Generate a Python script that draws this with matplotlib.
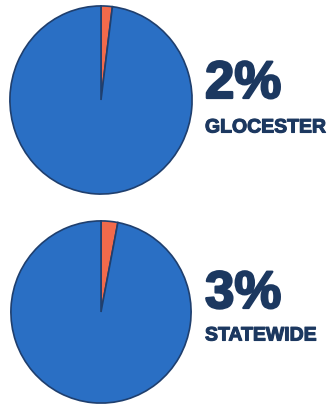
import matplotlib
matplotlib.use("Agg")
import matplotlib.pyplot as plt
import matplotlib.patheffects as pe

# shares shown in the two pies (percent)
labels = ["GLOCESTER", "STATEWIDE"]
shares = [2, 3]

W, H = 335, 404
blue = "#2a6fc4"
orange = "#f26a4b"
navy = "#1c3860"

plt.rcParams['font.family'] = ['Liberation Sans', 'DejaVu Sans']
fig = plt.figure(figsize=(W / 100, H / 100), dpi=100)

# pie boxes in pixels: (left, top, width, height), text positions: (x, y big, y small)
boxes = [(9, 5, 184, 190), (10, 220, 182, 184)]
text_pos = [(205, 84, 128), (205, 294, 336)]
thick = [pe.withStroke(linewidth=1.6, foreground=navy)]
thin = [pe.withStroke(linewidth=0.8, foreground=navy)]

for share, label, (l, t, w, h), (tx, ty1, ty2) in zip(shares, labels, boxes, text_pos):
    ax = fig.add_axes([l / W, (H - t - h) / H, w / W, h / H])
    ax.pie([share, 100 - share], colors=[orange, blue], startangle=90,
           counterclock=False,
           wedgeprops=dict(edgecolor="#1f3f6e", linewidth=1.2))
    ax.set_xlim(-1.01, 1.01)
    ax.set_ylim(-1.01, 1.01)
    ax.set_aspect("auto")
    ax.axis("off")
    fig.text(tx / W, 1 - ty1 / H, f"{share}%", fontsize=38, fontweight="bold",
             color=navy, ha="left", va="center", path_effects=thick)
    fig.text(tx / W, 1 - ty2 / H, label, fontsize=14, fontweight="bold",
             color=navy, ha="left", va="center", path_effects=thin)

fig.savefig("out.png", dpi=100, facecolor="white")
